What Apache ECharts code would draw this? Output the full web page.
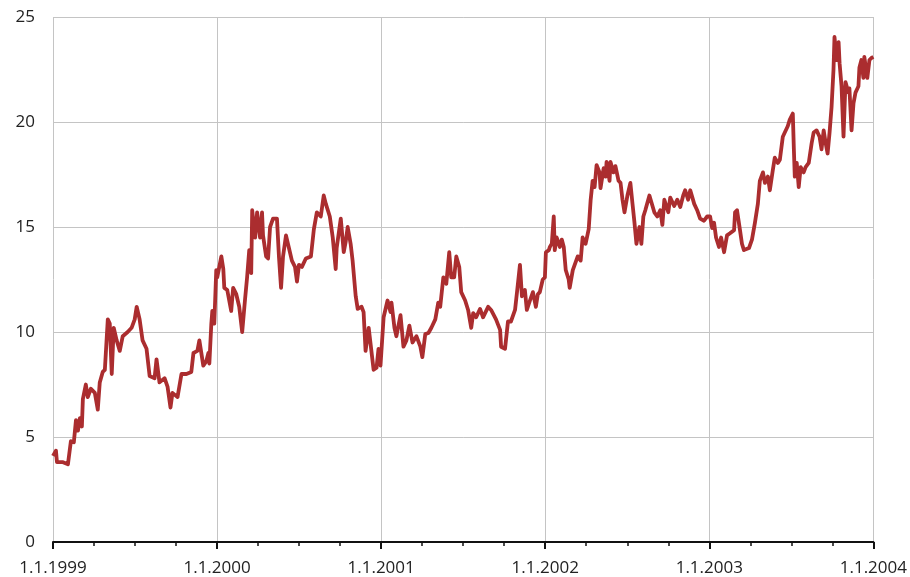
<!DOCTYPE html>
<html><head><meta charset="utf-8">
<script src="https://cdn.jsdelivr.net/npm/echarts@6/dist/echarts.min.js"></script>
<style>html,body{margin:0;padding:0;background:#fff}#c{width:910px;height:577px}</style>
</head><body><div id="c"></div>
<script>
// time as decimal years
const years = [
1999.000,1999.018,1999.024,1999.061,1999.091,1999.109,1999.127,1999.140,1999.152,1999.164,1999.176,1999.182,1999.200,1999.212,1999.231,1999.255,1999.273,1999.285,1999.303,1999.316,1999.334,1999.346,1999.358,1999.370,1999.388,1999.407,1999.425,1999.455,1999.479,1999.498,1999.510,1999.528,1999.546,1999.570,1999.589,1999.619,1999.631,1999.649,1999.680,1999.698,1999.716,1999.728,1999.759,1999.783,1999.813,1999.843,1999.856,1999.880,1999.892,1999.916,1999.934,1999.947,1999.953,1999.965,1999.971,1999.983,1999.995,
2000.001,2000.026,2000.038,2000.044,2000.062,2000.086,2000.098,2000.117,2000.135,2000.153,2000.171,2000.183,2000.196,2000.208,2000.214,2000.232,2000.244,2000.262,2000.274,2000.280,2000.299,2000.311,2000.323,2000.341,2000.365,2000.377,2000.390,2000.402,2000.420,2000.438,2000.456,2000.475,2000.487,2000.499,2000.517,2000.541,2000.572,2000.590,2000.608,2000.632,2000.650,2000.663,2000.687,2000.705,2000.723,2000.729,2000.754,2000.772,2000.784,2000.796,2000.814,2000.826,2000.845,2000.857,2000.881,2000.893,2000.905,2000.924,2000.942,2000.954,2000.972,2000.984,2000.996,
2001.015,2001.039,2001.057,2001.063,2001.081,2001.093,2001.118,2001.136,2001.154,2001.172,2001.191,2001.215,2001.239,2001.251,2001.269,2001.288,2001.306,2001.330,2001.348,2001.360,2001.379,2001.397,2001.415,2001.427,2001.445,2001.458,2001.476,2001.488,2001.512,2001.530,2001.549,2001.561,2001.579,2001.603,2001.621,2001.652,2001.670,2001.700,2001.725,2001.731,2001.755,2001.773,2001.791,2001.816,2001.828,2001.846,2001.858,2001.876,2001.888,2001.907,2001.925,2001.943,2001.955,2001.967,2001.985,2001.998,
2002.004,2002.022,2002.028,2002.040,2002.052,2002.058,2002.070,2002.089,2002.101,2002.113,2002.125,2002.143,2002.149,2002.168,2002.180,2002.198,2002.216,2002.228,2002.246,2002.265,2002.277,2002.289,2002.301,2002.313,2002.331,2002.337,2002.356,2002.368,2002.374,2002.392,2002.398,2002.416,2002.428,2002.447,2002.459,2002.471,2002.483,2002.501,2002.519,2002.532,2002.544,2002.556,2002.574,2002.586,2002.598,2002.610,2002.635,2002.647,2002.665,2002.683,2002.701,2002.714,2002.726,2002.750,2002.762,2002.786,2002.805,2002.823,2002.841,2002.853,2002.871,2002.884,2002.908,2002.926,2002.944,2002.968,2002.987,
2003.005,2003.017,2003.029,2003.041,2003.059,2003.072,2003.090,2003.108,2003.126,2003.151,2003.157,2003.169,2003.187,2003.199,2003.211,2003.242,2003.260,2003.278,2003.296,2003.308,2003.327,2003.339,2003.357,2003.369,2003.387,2003.399,2003.418,2003.430,2003.448,2003.460,2003.478,2003.490,2003.509,2003.515,2003.521,2003.533,2003.545,2003.557,2003.575,2003.587,2003.606,2003.624,2003.636,2003.654,2003.672,2003.684,2003.697,2003.709,2003.721,2003.733,2003.745,2003.757,2003.763,2003.776,2003.788,2003.794,2003.806,2003.818,2003.830,2003.848,2003.854,2003.867,2003.879,2003.891,2003.909,2003.915,2003.927,2003.939,2003.945,2003.963,2003.976,2003.988,2004.000
];
const values = [
4.1,4.35,3.8,3.8,3.7,4.8,4.75,5.8,5.3,5.9,5.5,6.8,7.5,6.9,7.3,7.1,6.3,7.6,8.1,8.2,10.6,10.4,8.0,10.2,9.6,9.1,9.8,10.0,10.2,10.6,11.2,10.6,9.6,9.2,7.9,7.8,8.7,7.6,7.8,7.4,6.4,7.1,6.9,8.0,8.0,8.1,9.0,9.1,9.6,8.4,8.6,9.0,8.5,10.4,11.0,10.4,12.95,
12.6,13.6,13.0,12.1,12.0,11.0,12.1,11.8,11.2,10.0,11.6,12.6,13.9,12.8,15.8,14.5,15.7,14.5,15.7,14.6,13.6,13.5,15.0,15.4,15.4,13.6,12.1,13.6,14.6,14.0,13.4,13.1,12.4,13.2,13.1,13.5,13.6,14.9,15.7,15.5,16.5,16.1,15.5,14.5,13.0,14.0,15.4,13.8,14.3,15.0,14.2,13.4,11.7,11.1,11.2,10.95,9.1,10.2,9.0,8.2,8.3,9.2,8.4,
10.7,11.5,10.95,11.4,10.2,9.8,10.8,9.3,9.6,10.3,9.5,9.8,9.3,8.8,9.9,9.95,10.2,10.6,11.4,11.2,12.6,12.3,13.8,12.6,12.6,13.6,13.1,11.9,11.5,11.05,10.2,10.9,10.7,11.1,10.7,11.2,11.05,10.6,10.1,9.3,9.2,10.5,10.5,11.05,11.9,13.2,11.7,12.0,11.05,11.5,11.9,11.2,11.8,11.9,12.5,12.6,
13.8,13.9,14.05,14.2,15.5,13.9,14.5,14.05,14.4,14.05,12.95,12.5,12.1,12.95,12.9,13.6,13.4,14.5,14.2,14.9,16.3,17.2,16.9,17.95,17.6,16.85,17.8,17.4,18.1,17.2,18.1,17.6,17.9,17.2,17.1,16.3,15.7,16.5,17.1,16.1,15.2,14.2,15.0,14.2,15.5,15.8,16.5,16.5,15.7,15.5,15.8,15.1,16.3,15.7,16.4,16.0,16.3,15.95,16.5,16.75,16.3,16.75,16.1,15.8,15.4,15.3,15.5,
15.5,14.95,15.2,14.5,14.05,14.5,13.8,14.6,14.7,14.85,15.7,15.8,14.85,14.2,13.9,14.0,14.4,15.2,16.1,17.2,17.6,17.1,17.4,16.75,17.7,18.3,18.05,18.2,19.3,19.5,19.8,20.1,20.4,18.8,17.4,18.05,16.9,17.85,17.6,17.85,18.05,19.0,19.5,19.6,19.3,18.7,19.6,19.0,18.5,19.5,20.7,22.5,24.05,22.95,23.8,22.8,21.7,19.3,21.9,21.4,21.6,19.6,20.9,21.4,21.7,22.6,22.95,22.1,23.1,22.1,22.95,23.05,23.1
];
const yTicks = [0, 5, 10, 15, 20, 25];
const xLabelPrefix = '1.1.';

const chart = echarts.init(document.getElementById('c'), null, {renderer: 'canvas'});
const FONT = '"Open Sans", sans-serif';
chart.setOption({
  animation: false,
  grid: {left: 53, right: 33, top: 17, bottom: 35, containLabel: false},
  xAxis: {
    type: 'value', min: 1999, max: 2004, interval: 1,
    axisLine: {show: true, onZero: false, lineStyle: {color: '#111', width: 2}},
    axisTick: {show: true, length: 7, inside: false, lineStyle: {color: '#111', width: 2}},
    minorTick: {show: true, splitNumber: 4, length: 4, lineStyle: {color: '#111', width: 1.5}},
    splitLine: {show: true, lineStyle: {color: '#c4c4c4', width: 1}},
    axisLabel: {fontFamily: FONT, fontSize: 17, color: '#222', margin: 18,
      formatter: v => xLabelPrefix + Math.round(v)}
  },
  yAxis: {
    type: 'value', min: yTicks[0], max: yTicks[yTicks.length - 1], interval: 5,
    axisLine: {show: false}, axisTick: {show: false},
    splitLine: {show: true, lineStyle: {color: '#c4c4c4', width: 1}},
    axisLabel: {fontFamily: FONT, fontSize: 17, color: '#222', margin: 18}
  },
  series: [{
    type: 'line', showSymbol: false, symbol: 'none',
    data: years.map((y, i) => [y, values[i]]),
    lineStyle: {color: '#ab2d2f', width: 3.8, join: 'round'},
    z: 3
  }]
});
</script></body></html>
